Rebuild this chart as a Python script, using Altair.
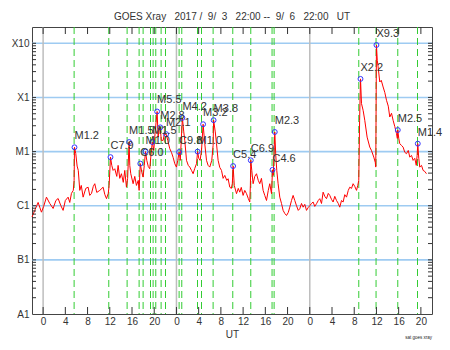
import altair as alt
import pandas as pd

# Time axis: hours since 2017-09-03 22:00 UT
flux_hours = [
    0.0, 0.5, 1.1, 1.7, 2.1, 2.6, 3.2, 3.8, 4.3, 4.7, 5.2, 5.6, 6.0, 6.5, 6.8, 7.1, 7.43, 7.58, 7.65,
    7.88, 8.12, 8.33, 8.6, 8.87, 9.2, 9.68, 10.1, 10.4, 10.71, 11.03, 11.3, 11.66, 12.2, 12.8, 13.1,
    13.41, 13.73, 13.88, 14.13, 14.36, 14.6, 14.9, 15.26, 15.5, 15.8, 16.1, 16.43, 16.7, 17.0, 17.21,
    17.48, 17.6, 17.78, 18.2, 18.5, 18.8, 19.13, 19.28, 19.49, 19.77, 20.0, 20.21, 20.43, 20.66, 20.93,
    21.2, 21.38, 21.65, 21.92, 22.19, 22.52, 22.7, 22.88, 23.09, 23.27, 23.6, 23.81, 24.14, 24.44, 24.8,
    25.11, 25.4, 25.7, 26.0, 26.24, 26.48, 26.69, 26.87, 27.07, 27.32, 27.5, 27.81, 28.13, 28.4, 28.71,
    29.0, 29.3, 29.61, 29.81, 30.02, 30.26, 30.51, 30.8, 31.1, 31.41, 31.7, 32.0, 32.36, 32.6, 32.69,
    32.99, 33.21, 33.5, 33.8, 34.11, 34.4, 34.7, 35.06, 35.3, 35.6, 35.88, 36.06, 36.2, 36.41, 36.81,
    37.13, 37.4, 37.67, 38.0, 38.3, 38.61, 38.93, 39.2, 39.31, 39.38, 39.56, 39.8, 40.1, 40.41, 40.73,
    41.0, 41.3, 41.6, 41.9, 42.21, 42.53, 42.8, 43.11, 43.29, 43.43, 43.7, 43.88, 44.06, 44.3, 44.6,
    44.91, 45.2, 45.5, 45.81, 46.13, 46.4, 46.71, 47.0, 47.3, 47.61, 47.93, 48.2, 48.51, 48.8, 49.1,
    49.41, 49.73, 50.0, 50.31, 50.6, 50.9, 51.21, 51.53, 51.8, 52.11, 52.4, 52.7, 53.01, 53.33, 53.6,
    53.91, 54.2, 54.5, 54.81, 55.13, 55.4, 55.71, 56.0, 56.3, 56.61, 56.93, 57.2, 57.51, 57.8, 58.1,
    58.41, 58.64, 58.82, 58.97, 59.13, 59.31, 59.6, 59.9, 60.32, 60.8, 61.1, 61.52, 61.79, 61.88, 62.0,
    62.15, 62.3, 62.6, 62.87, 63.2, 63.5, 63.81, 64.13, 64.4, 64.71, 65.0, 65.3, 65.61, 65.76, 65.84,
    66.02, 66.2, 66.5, 66.8, 67.1, 67.41, 67.73, 68.0, 68.31, 68.6, 68.9, 69.17, 69.32, 69.44, 69.62,
    69.8, 70.11, 70.4, 70.7, 71.0,
]
flux_values = [
    6.2e-7, 8.2e-7, 1.15e-6, 7.6e-7, 9.7e-7, 1.44e-6, 1.1e-6, 8.9e-7, 1.25e-6, 1.36e-6, 1.0e-6, 8.2e-7, 1.25e-6, 1.44e-6, 1.15e-6, 1.69e-6, 1.92e-6, 2.9e-6, 1.2e-5,
    9.2e-6, 5.4e-6, 4.5e-6, 1.92e-6, 2.37e-6, 1.44e-6, 2.09e-6, 2.2e-6, 1.55e-6, 1.69e-6, 2.27e-6, 2.55e-6, 1.76e-6, 1.92e-6, 2.2e-6, 1.62e-6,
    1.35e-6, 1.69e-6, 2.37e-6, 7.9e-6, 5.56e-6, 4.49e-6, 4.82e-6, 3.48e-6, 5.56e-6, 3.2e-6, 3.9e-6, 2.7e-6, 4.49e-6, 2.2e-6, 3.2e-6,
    1.5e-5, 5.56e-6, 3.9e-6, 2.55e-6, 3.48e-6, 2.37e-6, 2.94e-6, 1.92e-6, 6.0e-6, 4.1e-6, 3.38e-6, 5.56e-6, 1.0e-5, 6.88e-6, 5.3e-6,
    4.82e-6, 7.9e-6, 1.5e-5, 1.05e-5, 2.43e-5, 5.5e-5, 1.85e-5, 2.6e-5, 2.8e-5, 1.61e-5, 1.61e-5, 2.06e-5, 2.1e-5, 1.61e-5, 1.13e-5,
    9.6e-6, 7.8e-6, 5.97e-6, 5.17e-6, 6.88e-6, 9.8e-6, 6.88e-6, 1.61e-5, 4.2e-5, 2.31e-5, 1.61e-5, 6.88e-6, 5.56e-6, 5.17e-6, 4.49e-6,
    3.9e-6, 4.9e-6, 5.97e-6, 1.0e-5, 7.5e-6, 6.88e-6, 1.05e-5, 3.2e-5, 1.4e-5, 6.88e-6, 5.56e-6, 5.17e-6, 6.88e-6, 1.3e-5, 3.8e-5,
    2.31e-5, 1.4e-5, 6.88e-6, 5.1e-6, 4.49e-6, 3.2e-6, 3.63e-6, 2.94e-6, 3.15e-6, 2.2e-6, 2.09e-6, 2.58e-6, 5.4e-6, 2.37e-6, 1.67e-6,
    2.09e-6, 1.78e-6, 2.18e-6, 1.55e-6, 1.92e-6, 1.67e-6, 1.36e-6, 1.17e-6, 2.37e-6, 6.9e-6, 4.49e-6, 2.55e-6, 3.48e-6, 3.9e-6, 2.94e-6,
    2.55e-6, 3.2e-6, 1.92e-6, 1.55e-6, 1.25e-6, 1.92e-6, 2.55e-6, 1.67e-6, 4.6e-6, 3.63e-6, 2.3e-5, 8.5e-6, 4.49e-6, 2.55e-6, 1.44e-6,
    1.1e-6, 8.2e-7, 7.2e-7, 6.6e-7, 7.5e-7, 9.4e-7, 1.25e-6, 1.55e-6, 1.25e-6, 1.0e-6, 8.2e-7, 8.8e-7, 1.1e-6, 9.4e-7, 1.06e-6,
    8.2e-7, 9.3e-7, 1.0e-6, 1.1e-6, 1.17e-6, 9.7e-7, 1.09e-6, 1.25e-6, 1.35e-6, 1.1e-6, 1.78e-6, 1.49e-6, 1.35e-6, 1.69e-6, 1.55e-6,
    1.31e-6, 1.17e-6, 1.49e-6, 1.25e-6, 1.1e-6, 9.4e-7, 1.25e-6, 1.17e-6, 1.6e-6, 1.44e-6, 1.92e-6, 2.2e-6, 2.09e-6, 2.55e-6, 2.27e-6,
    1.92e-6, 2.37e-6, 2.94e-6, 3.78e-5, 2.2e-4, 7.69e-5, 5.78e-5, 3.78e-5, 1.85e-5, 1.21e-5, 1.05e-5, 7.91e-6, 6.3e-6, 5.17e-6, 9.3e-4,
    4.85e-4, 3.66e-4, 1.93e-4, 2.07e-4, 1.56e-4, 1.24e-4, 8.85e-5, 6.9e-5, 4.35e-5, 5.1e-5, 3.78e-5, 2.9e-5, 2.14e-5, 1.75e-5, 2.5e-5,
    1.75e-5, 1.4e-5, 1.3e-5, 1.21e-5, 9.7e-6, 9.14e-6, 1.05e-5, 7.91e-6, 8.5e-6, 6.88e-6, 7.5e-6, 5.56e-6, 8.5e-6, 1.4e-5, 7.5e-6,
    5.17e-6, 5.56e-6, 4.49e-6, 4.3e-6, 3.9e-6,
]

# flare start times (green dashed lines)
start_hours = [7.58, 13.82, 17.12, 19.28, 20.0, 21.33, 21.8, 22.28, 23.24, 24.03, 26.48, 26.96,
               29.79, 30.51, 32.6, 36.14, 39.38, 43.21, 43.58, 58.82, 61.93, 65.84, 69.39]

# flare peaks (blue circles + labels)
peak_hours = [7.65, 14.13, 17.48, 19.49, 20.43, 21.65, 22.52, 23.09, 24.14, 26.48, 27.07, 29.81,
              30.8, 32.69, 36.2, 39.38, 43.29, 43.7, 59.13, 62.0, 65.84, 69.44]
peak_flux = [1.2e-5, 7.9e-6, 1.5e-5, 6.0e-6, 1.0e-5, 1.5e-5, 5.5e-5, 2.8e-5, 2.1e-5, 9.8e-6, 4.2e-5, 1.0e-5,
             3.2e-5, 3.8e-5, 5.4e-6, 6.9e-6, 4.6e-6, 2.3e-5, 2.2e-4, 9.3e-4, 2.5e-5, 1.4e-5]
peak_labels = ["M1.2", "C7.9", "M1.5", "C6.0", "M1.0", "M1.5", "M5.5", "M2.8", "M2.1", "C9.8", "M4.2", "M1.0",
               "M3.2", "M3.8", "C5.4", "C6.9", "C4.6", "M2.3", "X2.2", "X9.3", "M2.5", "M1.4"]

class_values = [1e-8, 1e-7, 1e-6, 1e-5, 1e-4, 1e-3]
class_names = ["A1", "B1", "C1", "M1", "X1", "X10"]
tick_hours = list(range(2, 71, 4))
day_start_hours = [2, 26, 50]

W, H = 400, 287
FONT = "Liberation Sans"
TXT = "#333333"

x_scale = alt.Scale(domain=[0, 72], nice=False, zero=False)
y_scale = alt.Scale(type="log", domain=[1e-8, 2e-3], nice=False)

x_axis = alt.Axis(values=tick_hours, labelExpr="'' + ((datum.value + 22) % 24)", ticks=False, domain=False,
                  grid=False, title="UT", labelFontSize=10, titleFontSize=10, labelFont=FONT, titleFont=FONT,
                  labelColor=TXT, titleColor=TXT, titleFontWeight="normal", labelPadding=2, titlePadding=3,
                  labelFlush=False, labelOverlap=False)
names_js = "[" + ",".join("'%s'" % n for n in class_names) + "]"
y_axis = alt.Axis(values=class_values, labelExpr=names_js + "[round(log(datum.value)/LN10) + 8]", ticks=False,
                  domain=False, grid=False, title=None, labelFontSize=10, labelFont=FONT, labelColor=TXT,
                  labelPadding=3, labelFlush=False, labelOverlap=False)

X = alt.X("h:Q", scale=x_scale, axis=x_axis)
Y = alt.Y("f:Q", scale=y_scale, axis=y_axis)

curve_df = pd.DataFrame({"h": flux_hours, "f": flux_values})
start_df = pd.DataFrame({"h": start_hours})
peak_df = pd.DataFrame({"h": peak_hours, "f": peak_flux, "label": peak_labels})
class_df = pd.DataFrame({"f": class_values[1:]})
day_df = pd.DataFrame({"h": day_start_hours})
xt_df = pd.DataFrame({"h": tick_hours})
minor = [m * 10.0 ** e for e in range(-8, -2) for m in range(1, 10)]
minor = [v for v in minor if 1e-8 < v < 1.99e-3]
yt_df = pd.DataFrame({"f": minor})

hlines = alt.Chart(class_df).mark_rule(color="#9ecbf2", strokeWidth=1.6).encode(y=Y)
daylines = alt.Chart(day_df).mark_rule(color="#bdbdbd", strokeWidth=1.5).encode(x=X)
green = alt.Chart(start_df).mark_rule(color="#33cc33", strokeWidth=1, strokeDash=[7, 4]).encode(x=X)
curve = alt.Chart(curve_df).mark_line(color="#ff0000", strokeWidth=1).encode(x=X, y=Y)
xt_bot = alt.Chart(xt_df).mark_rule(color="#333333").encode(x=X, y=alt.value(H - 7), y2=alt.value(H))
xt_top = alt.Chart(xt_df).mark_rule(color="#333333").encode(x=X, y=alt.value(0), y2=alt.value(7))
yt_left = alt.Chart(yt_df).mark_rule(color="#333333").encode(y=Y, x=alt.value(0), x2=alt.value(4))
yt_right = alt.Chart(yt_df).mark_rule(color="#333333").encode(y=Y, x=alt.value(W - 4), x2=alt.value(W))
points = alt.Chart(peak_df).mark_point(shape="circle", filled=False, color="#3333ff", size=24,
                                       strokeWidth=1, opacity=1).encode(x=X, y=Y)
labels = alt.Chart(peak_df).mark_text(align="left", baseline="middle", dy=-11, fontSize=11, font=FONT,
                                      color=TXT).encode(x=X, y=Y, text="label:N")
note = alt.Chart(pd.DataFrame({"t": ["sat goes xray"]})).mark_text(
    fontSize=4.5, font=FONT, color="#222222", align="right").encode(
    x=alt.value(W), y=alt.value(H + 24), text="t:N")

nb = "\u00a0"
title_text = ("GOES Xray" + nb * 3 + "2017 /" + nb * 2 + "9/" + nb * 2 + "3" + nb * 3 + "22:00 --" + nb * 2
              + "9/" + nb * 2 + "6" + nb * 3 + "22:00" + nb * 3 + "UT")

chart = alt.layer(hlines, daylines, green, curve, xt_bot, xt_top, yt_left, yt_right, points, labels, note).properties(
    width=W, height=H,
    title=alt.TitleParams(text=title_text, fontSize=10, font=FONT, color=TXT, fontWeight="normal",
                          anchor="middle", offset=4),
    autosize=alt.AutoSizeParams(type="none"),
    padding={"left": 32, "top": 27, "right": 18, "bottom": 36},
    background="white",
).configure_view(stroke="#444444", strokeWidth=1)

chart.save("out.html", embed_options={"renderer": "svg", "actions": False})
